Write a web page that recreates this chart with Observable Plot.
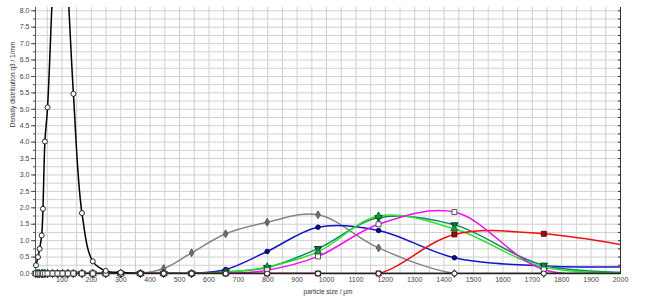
<!DOCTYPE html>
<html>
<head>
<meta charset="utf-8">
<script src="https://cdn.jsdelivr.net/npm/d3@7"></script>
<script src="https://cdn.jsdelivr.net/npm/@observablehq/plot@0.6"></script>
<style>
  html, body { margin: 0; padding: 0; background: white; }
</style>
</head>
<body>
<div id="chart"></div>
<script>
// particle size classes (µm)
const sizes = [11.6, 18.4, 24, 31, 35.4, 42, 51, 68, 85, 102, 120, 139, 168, 205, 249, 300, 367, 446, 541, 657, 798, 971, 1177, 1435, 1739, 2110];

// density distribution q3 (1/mm) per sample
const black   = [0.25, 0.5, 0.75, 1.16, 1.97, 4.02, 5.06, 8.6, 11.5, 11.5, 8.7, 5.47, 1.84, 0.37, 0.08, 0.03, 0, 0, 0, 0, 0, 0, 0, 0, 0, 0];
const gray    = [0, 0, 0, 0, 0, 0, 0, 0, 0, 0, 0, 0, 0, 0, 0, 0, 0, 0.15, 0.63, 1.21, 1.56, 1.79, 0.78, 0, 0, 0];
const blue    = [0, 0, 0, 0, 0, 0, 0, 0, 0, 0, 0, 0, 0, 0, 0, 0, 0, 0, 0, 0.12, 0.67, 1.41, 1.31, 0.48, 0.23, 0.21];
const dkgreen = [0, 0, 0, 0, 0, 0, 0, 0, 0, 0, 0, 0, 0, 0, 0, 0, 0, 0, 0, 0.05, 0.18, 0.76, 1.7, 1.48, 0.25, 0.03];
const green   = [0, 0, 0, 0, 0, 0, 0, 0, 0, 0, 0, 0, 0, 0, 0, 0, 0, 0, 0, 0.04, 0.2, 0.66, 1.75, 1.36, 0.2, 0.02];
const red     = [0, 0, 0, 0, 0, 0, 0, 0, 0, 0, 0, 0, 0, 0, 0, 0, 0, 0, 0, 0, 0, 0, 0, 1.19, 1.21, 0.7];
const magenta = [0, 0, 0, 0, 0, 0, 0, 0, 0, 0, 0, 0, 0, 0, 0, 0, 0, 0, 0, 0, 0.1, 0.52, 1.5, 1.87, 0.12, 0];

const xTicks = [100, 200, 300, 400, 500, 600, 700, 800, 900, 1000, 1100, 1200, 1300, 1400, 1500, 1600, 1700, 1800, 1900, 2000];
const yTicks = [0, 0.5, 1, 1.5, 2, 2.5, 3, 3.5, 4, 4.5, 5, 5.5, 6, 6.5, 7, 7.5, 8];
const xLabel = "particle size / µm";
const yLabel = "Density distribution q3 / 1/mm";

const xGrid = d3.range(50, 2001, 50);
const yGrid = d3.range(0, 8.01, 0.25);

const series = [
  {name: "gray", values: gray, stroke: "#858585", symbol: "diamond", fill: "#6e6e6e", mstroke: "#555", r: 2.4, rotate: 0},
  {name: "blue", values: blue, stroke: "#1414c8", symbol: "circle", fill: "#0a0a8c", mstroke: "#000050", r: 2.3, rotate: 0},
  {name: "dkgreen", values: dkgreen, stroke: "#0a8a5a", symbol: "triangle", fill: "#0a6a4a", mstroke: "#033", r: 2.7, rotate: 180},
  {name: "green", values: green, stroke: "#2ee02e", symbol: "triangle", fill: "#1aa01a", mstroke: "#064", r: 2.7, rotate: 0},
  {name: "red", values: red, stroke: "#ee1010", symbol: "square", fill: "#b00000", mstroke: "#500", r: 2.8, rotate: 0},
  {name: "magenta", values: magenta, stroke: "#f010f0", symbol: "square", fill: "white", mstroke: "#444", r: 2.8, rotate: 0},
  {name: "black", values: black, stroke: "#000", symbol: "circle", fill: "white", mstroke: "#111", r: 2.5, rotate: 0}
];

const marks = [
  Plot.gridX({ticks: xGrid, stroke: "#d0d0d0", strokeOpacity: 1}),
  Plot.gridY({ticks: yGrid, stroke: "#d0d0d0", strokeOpacity: 1}),
  Plot.axisY({ticks: yTicks, tickFormat: ".1f", tickSize: 4, tickPadding: 2, label: null, fill: "#444", stroke: "#555", fontSize: 7}),
  Plot.axisY({ticks: yGrid, tickSize: 2, tickFormat: () => "", label: null, stroke: "#555"}),
  Plot.axisY({anchor: "right", ticks: yGrid, tickSize: -3, tickFormat: () => "", label: null, stroke: "#333"}),
  Plot.axisX({ticks: xTicks, tickSize: 0, tickPadding: 4, tickFormat: d => String(d), label: null, fill: "#444", fontSize: 7}),
  Plot.ruleX([10], {stroke: "#555", strokeWidth: 1}),
  Plot.ruleX([2000], {stroke: "#333", strokeWidth: 1})
];

for (const s of series) {
  const rows = sizes.map((x, i) => ({x, y: s.values[i]}));
  marks.push(Plot.line(rows, {x: "x", y: "y", stroke: s.stroke, strokeWidth: 1.5, curve: "catmull-rom", clip: true}));
}
marks.push(Plot.ruleY([0], {stroke: "#222", strokeWidth: 1.5}));
for (const s of series) {
  const rows = sizes.map((x, i) => ({x, y: s.values[i]})).filter(d => d.y <= 8.1 && d.x <= 2000);
  marks.push(Plot.dot(rows, {x: "x", y: "y", symbol: s.symbol, r: s.r, fill: s.fill, stroke: s.mstroke, strokeWidth: 0.9, rotate: s.rotate}));
}
marks.push(Plot.text([xLabel], {frameAnchor: "bottom", dy: 20, textAnchor: "middle", text: d => d, fill: "#333", fontSize: 6.5}));
marks.push(Plot.text([yLabel], {frameAnchor: "left", dx: -23, dy: -56, textAnchor: "middle", rotate: -90, text: d => d, fill: "#333", fontSize: 6.5}));

const chart = Plot.plot({
  width: 646,
  height: 301,
  marginLeft: 35,
  marginRight: 26,
  marginTop: 7,
  marginBottom: 28,
  style: {fontFamily: "'Liberation Sans', Arial, sans-serif", fontSize: "7px", background: "white", color: "#333"},
  x: {domain: [10, 2000]},
  y: {domain: [0, 8.1]},
  marks
});
document.getElementById("chart").appendChild(chart);
</script>
</body>
</html>
